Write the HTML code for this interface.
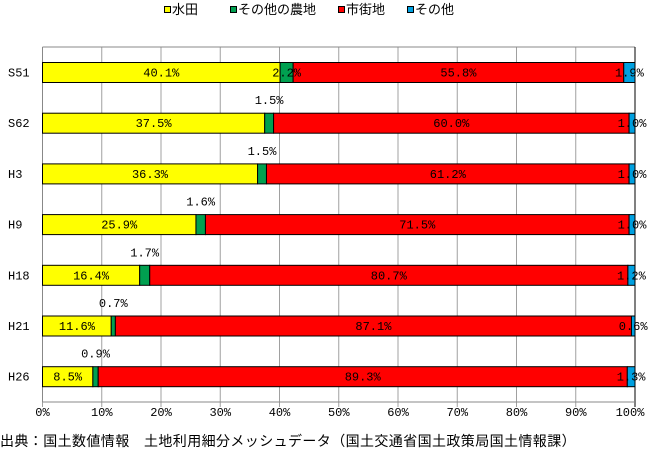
<!DOCTYPE html>
<html><head><meta charset="utf-8"><style>
html,body{margin:0;padding:0;background:#fff;}
svg text{font-family:"Liberation Mono","Noto Sans CJK JP",monospace;font-size:12px;fill:#000;}
svg text.j{font-family:"Noto Sans CJK JP",sans-serif;font-size:13px;}
</style></head><body>
<svg width="650" height="454" xmlns="http://www.w3.org/2000/svg">
<rect width="650" height="454" fill="#fff"/>
<rect x="164.5" y="6.5" width="6" height="6" fill="#ffff00" stroke="#000"/>
<text class="j" x="172" y="14">水田</text>
<rect x="230.5" y="6.5" width="6" height="6" fill="#00a050" stroke="#000"/>
<text class="j" x="238" y="14">その他の農地</text>
<rect x="338.5" y="6.5" width="6" height="6" fill="#ff0000" stroke="#000"/>
<text class="j" x="346" y="14">市街地</text>
<rect x="407.5" y="6.5" width="6" height="6" fill="#00a0e0" stroke="#000"/>
<text class="j" x="415" y="14">その他</text>
<g stroke="#a0a0a0" stroke-width="1">
<line x1="101.75" y1="47" x2="101.75" y2="407"/>
<line x1="161" y1="47" x2="161" y2="407"/>
<line x1="220.25" y1="47" x2="220.25" y2="407"/>
<line x1="279.5" y1="47" x2="279.5" y2="407"/>
<line x1="338.75" y1="47" x2="338.75" y2="407"/>
<line x1="398" y1="47" x2="398" y2="407"/>
<line x1="457.25" y1="47" x2="457.25" y2="407"/>
<line x1="516.5" y1="47" x2="516.5" y2="407"/>
<line x1="575.75" y1="47" x2="575.75" y2="407"/>
<line x1="42.5" y1="402" x2="42.5" y2="407"/>
</g>
<line x1="42.5" y1="47" x2="635" y2="47" stroke="#888"/>
<line x1="42.5" y1="47" x2="42.5" y2="402" stroke="#888"/>
<line x1="635" y1="47" x2="635" y2="407" stroke="#000"/>
<line x1="42.5" y1="402" x2="635" y2="402" stroke="#888"/>

<g stroke="#000" stroke-width="1">
<!-- S51 -->
<rect x="42.5" y="62.5" width="237.59" height="20" fill="#ffff00"/>
<rect x="280.09" y="62.5" width="13.04" height="20" fill="#00a050"/>
<rect x="293.13" y="62.5" width="330.62" height="20" fill="#ff0000"/>
<rect x="623.75" y="62.5" width="11.25" height="20" fill="#00a0e0"/>
<!-- S62 -->
<rect x="42.5" y="113.2" width="222.19" height="20" fill="#ffff00"/>
<rect x="264.69" y="113.2" width="8.89" height="20" fill="#00a050"/>
<rect x="273.58" y="113.2" width="355.5" height="20" fill="#ff0000"/>
<rect x="629.08" y="113.2" width="5.92" height="20" fill="#00a0e0"/>
<!-- H3 -->
<rect x="42.5" y="163.9" width="215.08" height="20" fill="#ffff00"/>
<rect x="257.58" y="163.9" width="8.89" height="20" fill="#00a050"/>
<rect x="266.47" y="163.9" width="362.61" height="20" fill="#ff0000"/>
<rect x="629.08" y="163.9" width="5.92" height="20" fill="#00a0e0"/>
<!-- H9 -->
<rect x="42.5" y="214.6" width="153.46" height="20" fill="#ffff00"/>
<rect x="195.96" y="214.6" width="9.48" height="20" fill="#00a050"/>
<rect x="205.44" y="214.6" width="423.64" height="20" fill="#ff0000"/>
<rect x="629.08" y="214.6" width="5.92" height="20" fill="#00a0e0"/>
<!-- H18 -->
<rect x="42.5" y="265.3" width="97.17" height="20" fill="#ffff00"/>
<rect x="139.67" y="265.3" width="10.07" height="20" fill="#00a050"/>
<rect x="149.74" y="265.3" width="478.15" height="20" fill="#ff0000"/>
<rect x="627.89" y="265.3" width="7.11" height="20" fill="#00a0e0"/>
<!-- H21 -->
<rect x="42.5" y="316" width="68.73" height="20" fill="#ffff00"/>
<rect x="111.23" y="316" width="4.15" height="20" fill="#00a050"/>
<rect x="115.38" y="316" width="516.07" height="20" fill="#ff0000"/>
<rect x="631.45" y="316" width="3.55" height="20" fill="#00a0e0"/>
<!-- H26 -->
<rect x="42.5" y="366.7" width="50.36" height="20" fill="#ffff00"/>
<rect x="92.86" y="366.7" width="5.34" height="20" fill="#00a050"/>
<rect x="98.2" y="366.7" width="529.1" height="20" fill="#ff0000"/>
<rect x="627.3" y="366.7" width="7.7" height="20" fill="#00a0e0"/>
</g>

<g>
<text x="8" y="76.5">S51</text>
<text x="8" y="127.2">S62</text>
<text x="8" y="177.9">H3</text>
<text x="8" y="228.6">H9</text>
<text x="8" y="279.3">H18</text>
<text x="8" y="330">H21</text>
<text x="8" y="380.7">H26</text>
</g>
<g text-anchor="middle">
<text x="161.3" y="76.5">40.1%</text><text x="286.6" y="76.5">2.2%</text><text x="458.4" y="76.5">55.8%</text><text x="629.4" y="76.5">1.9%</text>
<text x="153.6" y="127.2">37.5%</text><text x="269.1" y="104">1.5%</text><text x="451.3" y="127.2">60.0%</text><text x="632" y="127.2">1.0%</text>
<text x="150" y="177.9">36.3%</text><text x="262" y="154.9">1.5%</text><text x="447.8" y="177.9">61.2%</text><text x="632" y="177.9">1.0%</text>
<text x="119.2" y="228.6">25.9%</text><text x="200.7" y="205.6">1.6%</text><text x="417.3" y="228.6">71.5%</text><text x="632" y="228.6">1.0%</text>
<text x="91.1" y="279.3">16.4%</text><text x="144.7" y="256.3">1.7%</text><text x="388.8" y="279.3">80.7%</text><text x="631.4" y="279.3">1.2%</text>
<text x="76.9" y="330">11.6%</text><text x="113.3" y="307">0.7%</text><text x="373.4" y="330">87.1%</text><text x="633.2" y="330">0.6%</text>
<text x="67.7" y="380.7">8.5%</text><text x="95.5" y="357.7">0.9%</text><text x="362.7" y="380.7">89.3%</text><text x="631.1" y="380.7">1.3%</text>
</g>
<g text-anchor="middle">
<text x="42.5" y="416">0%</text><text x="101.75" y="416">10%</text><text x="161" y="416">20%</text>
<text x="220.25" y="416">30%</text><text x="279.5" y="416">40%</text><text x="338.75" y="416">50%</text>
<text x="398" y="416">60%</text><text x="457.25" y="416">70%</text><text x="516.5" y="416">80%</text>
<text x="575.75" y="416">90%</text><text x="630" y="416">100%</text>
</g>
<text x="0" y="446" style="font-family:'Noto Sans CJK JP',sans-serif;font-size:14px;letter-spacing:0.4px">出典：国土数値情報　土地利用細分メッシュデータ（国土交通省国土政策局国土情報課）</text>
</svg>
</body></html>
